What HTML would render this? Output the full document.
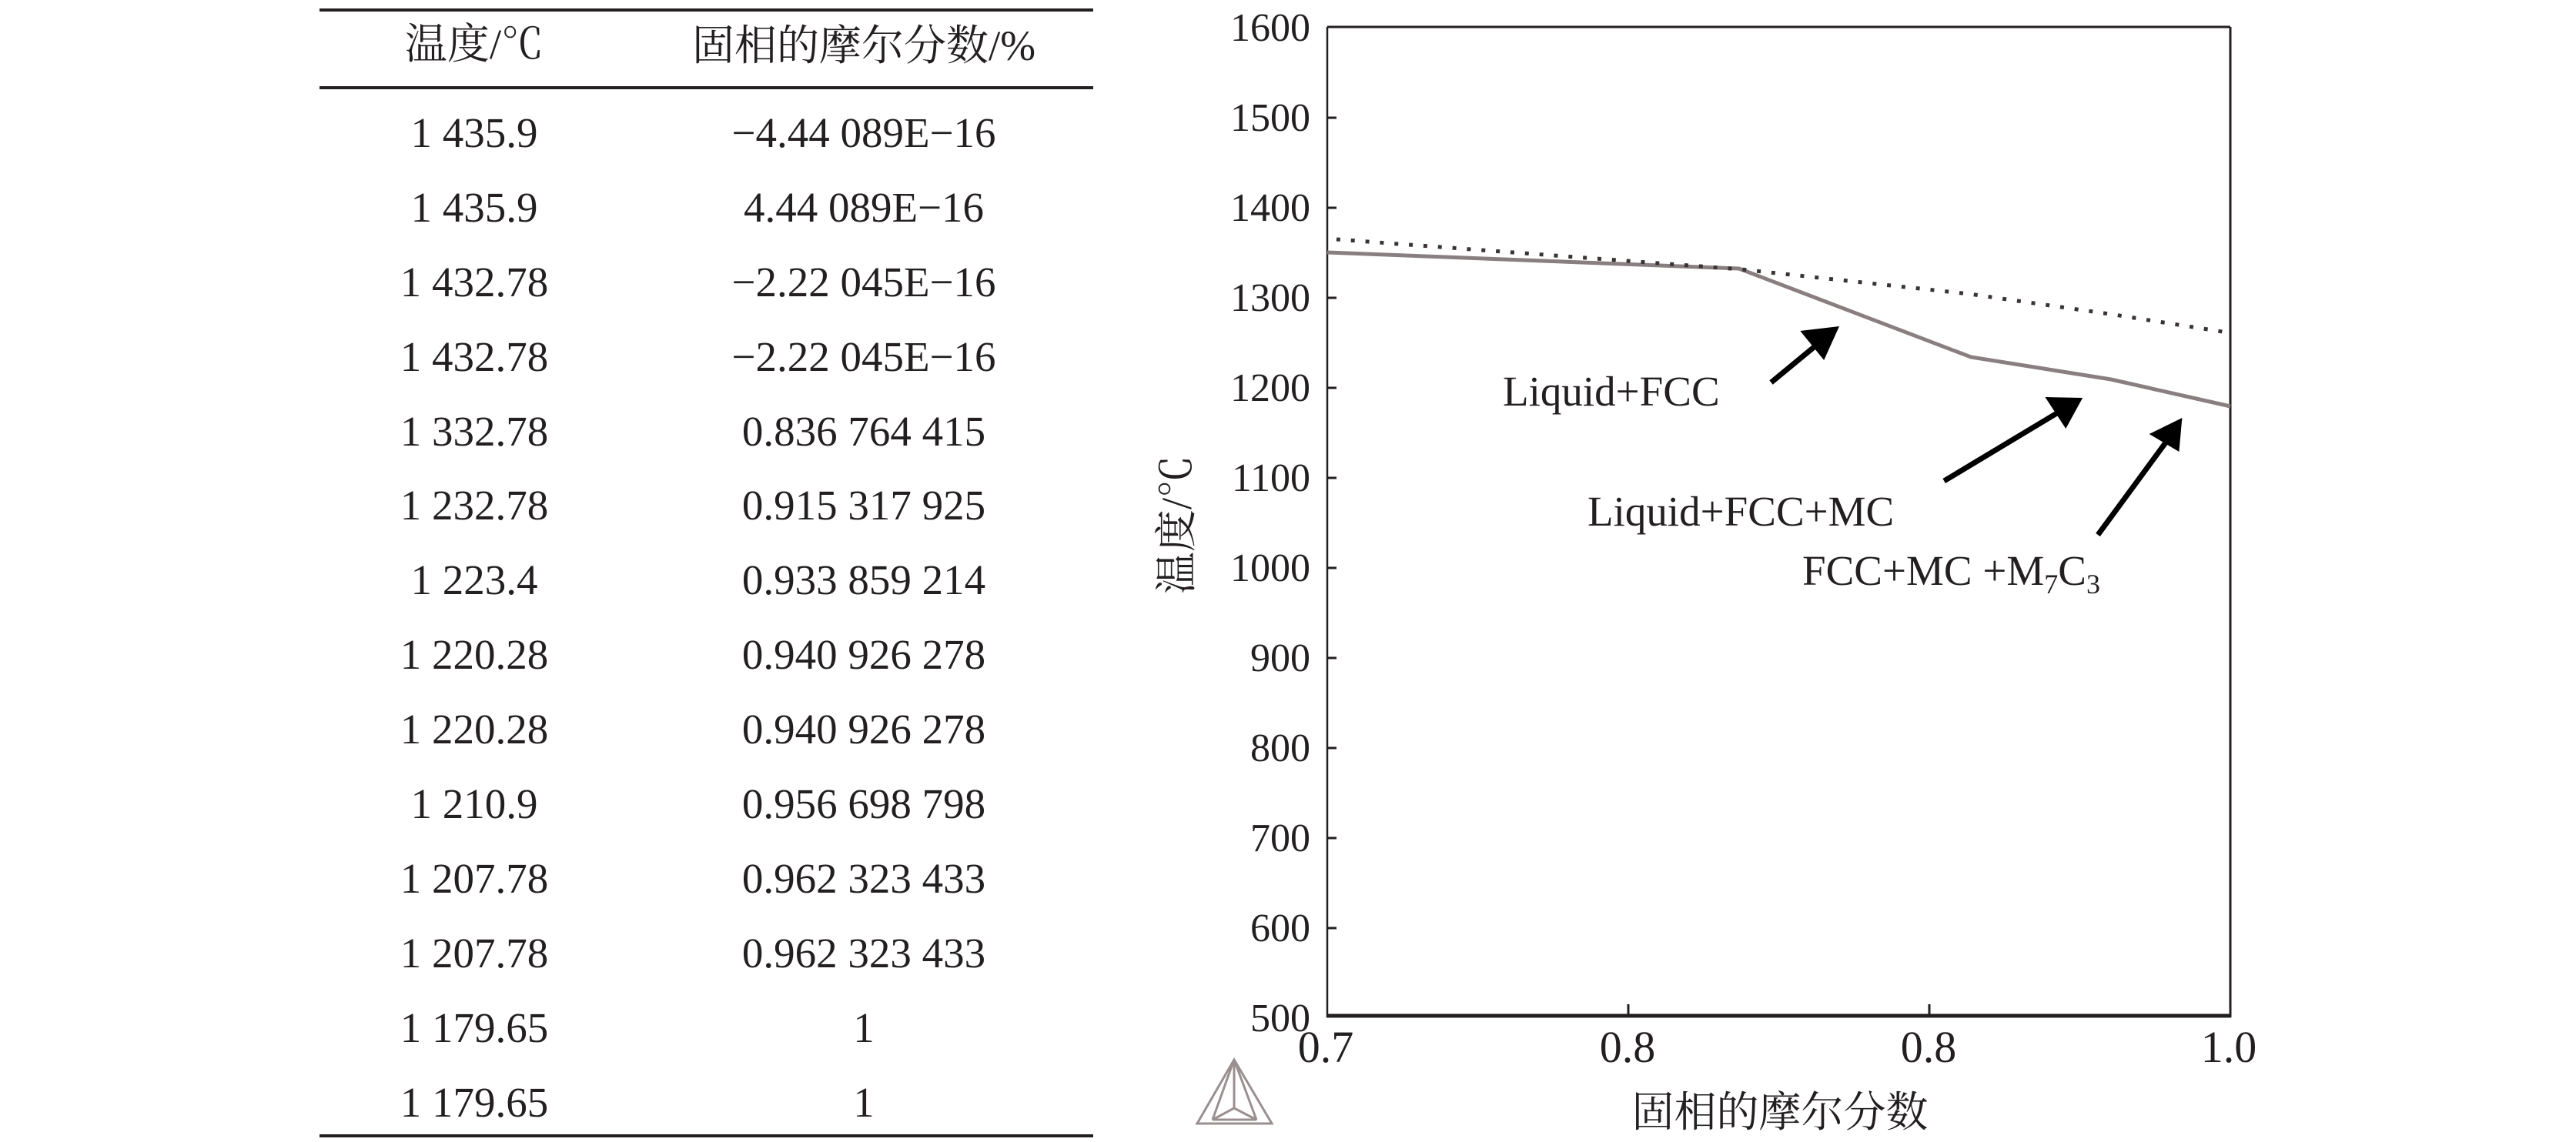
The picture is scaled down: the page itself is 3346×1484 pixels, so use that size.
<!DOCTYPE html>
<html><head><meta charset="utf-8"><style>
html,body{margin:0;padding:0;background:#fff;}
svg{display:block;}
text{font-family:"Liberation Serif","Noto Serif CJK SC",serif;fill:#231f20;}
</style></head><body>
<svg width="3346" height="1484" viewBox="0 0 3346 1484" xmlns="http://www.w3.org/2000/svg">
<!-- table -->
<line x1="415" y1="13" x2="1420" y2="13" stroke="#231f20" stroke-width="4"/>
<line x1="415" y1="114" x2="1420" y2="114" stroke="#231f20" stroke-width="4"/>
<line x1="415" y1="1476" x2="1420" y2="1476" stroke="#231f20" stroke-width="4"/>
<text x="616" y="76" font-size="55" text-anchor="middle">温度/℃</text>
<text x="1122" y="78" font-size="55" text-anchor="middle">固相的摩尔分数/%</text>
<g font-size="55" text-anchor="middle">
<text x="616" y="191">1 435.9</text><text x="1122" y="191">−4.44 089E−16</text>
<text x="616" y="288">1 435.9</text><text x="1122" y="288">4.44 089E−16</text>
<text x="616" y="385">1 432.78</text><text x="1122" y="385">−2.22 045E−16</text>
<text x="616" y="482">1 432.78</text><text x="1122" y="482">−2.22 045E−16</text>
<text x="616" y="579">1 332.78</text><text x="1122" y="579">0.836 764 415</text>
<text x="616" y="675">1 232.78</text><text x="1122" y="675">0.915 317 925</text>
<text x="616" y="772">1 223.4</text><text x="1122" y="772">0.933 859 214</text>
<text x="616" y="869">1 220.28</text><text x="1122" y="869">0.940 926 278</text>
<text x="616" y="966">1 220.28</text><text x="1122" y="966">0.940 926 278</text>
<text x="616" y="1063">1 210.9</text><text x="1122" y="1063">0.956 698 798</text>
<text x="616" y="1160">1 207.78</text><text x="1122" y="1160">0.962 323 433</text>
<text x="616" y="1257">1 207.78</text><text x="1122" y="1257">0.962 323 433</text>
<text x="616" y="1354">1 179.65</text><text x="1122" y="1354">1</text>
<text x="616" y="1451">1 179.65</text><text x="1122" y="1451">1</text>
</g>
<!-- chart frame -->
<line x1="1724" y1="35" x2="2897" y2="35" stroke="#231f20" stroke-width="3"/>
<line x1="2897" y1="35" x2="2897" y2="1322" stroke="#231f20" stroke-width="3"/>
<line x1="1724" y1="35" x2="1724" y2="1322" stroke="#231f20" stroke-width="2.5"/>
<line x1="1723" y1="1320" x2="2898" y2="1320" stroke="#231f20" stroke-width="5"/>
<g stroke="#231f20" stroke-width="3">
<line x1="1724" y1="153" x2="1736" y2="153"/><line x1="1724" y1="270" x2="1736" y2="270"/>
<line x1="1724" y1="387" x2="1736" y2="387"/><line x1="1724" y1="504" x2="1736" y2="504"/>
<line x1="1724" y1="621" x2="1736" y2="621"/><line x1="1724" y1="738" x2="1736" y2="738"/>
<line x1="1724" y1="855" x2="1736" y2="855"/><line x1="1724" y1="972" x2="1736" y2="972"/>
<line x1="1724" y1="1089" x2="1736" y2="1089"/><line x1="1724" y1="1206" x2="1736" y2="1206"/>
<line x1="2115" y1="1320" x2="2115" y2="1305"/><line x1="2506" y1="1320" x2="2506" y2="1305"/>
</g>
<g font-size="52" text-anchor="end">
<text x="1702" y="53">1600</text><text x="1702" y="170">1500</text><text x="1702" y="287">1400</text>
<text x="1702" y="404">1300</text><text x="1702" y="521">1200</text><text x="1702" y="638">1100</text>
<text x="1702" y="755">1000</text><text x="1702" y="872">900</text><text x="1702" y="989">800</text>
<text x="1702" y="1106">700</text><text x="1702" y="1223">600</text><text x="1702" y="1340">500</text>
</g>
<g font-size="58" text-anchor="middle">
<text x="1722" y="1380">0.7</text><text x="2114" y="1380">0.8</text>
<text x="2505" y="1380">0.8</text><text x="2895" y="1380">1.0</text>
</g>
<text x="2312" y="1464" font-size="55" text-anchor="middle">固相的摩尔分数</text>
<text transform="translate(1547,682) rotate(-90)" font-size="55" text-anchor="middle">温度/℃</text>
<!-- curves -->
<g transform="translate(1724,0) scale(0.99407,1) translate(-1728,0)">
<polyline points="1728,328 2266,349 2569,464 2752,493 2908,528" fill="none" stroke="#8a7f80" stroke-width="5"/>
<polyline points="1740,311 2269,350 2567,382 2750,408 2904,432" fill="none" stroke="#3a3334" stroke-width="5" stroke-dasharray="5 14"/>
<g stroke="#000" stroke-width="7" fill="#000">
<line x1="2308" y1="497" x2="2375" y2="442"/>
<polygon points="2397,424 2346,430 2377,468" stroke="none"/>
<line x1="2534" y1="625" x2="2693" y2="530"/>
<polygon points="2715,517 2666,516 2693,557" stroke="none"/>
<line x1="2735" y1="695" x2="2831" y2="565"/>
<polygon points="2845,543 2802,564 2841,587" stroke="none"/>
</g>
</g>
<g font-size="55">
<text x="1952" y="527">Liquid+FCC</text>
<text x="2062" y="683">Liquid+FCC+MC</text>
<text x="2341" y="760">FCC+MC +M<tspan font-size="36" dy="11">7</tspan><tspan dy="-11">C</tspan><tspan font-size="36" dy="11">3</tspan></text>
</g>
<!-- logo -->
<g fill="none" stroke="#9a8f90" stroke-width="3">
<polygon points="1603,1377 1555,1460 1652,1460"/>
<line x1="1603" y1="1377" x2="1603" y2="1440"/>
<polygon points="1603,1440 1575,1455 1632,1455"/>
<line x1="1603" y1="1377" x2="1575" y2="1455"/>
<line x1="1603" y1="1377" x2="1632" y2="1455"/>
</g>
</svg>
</body></html>
